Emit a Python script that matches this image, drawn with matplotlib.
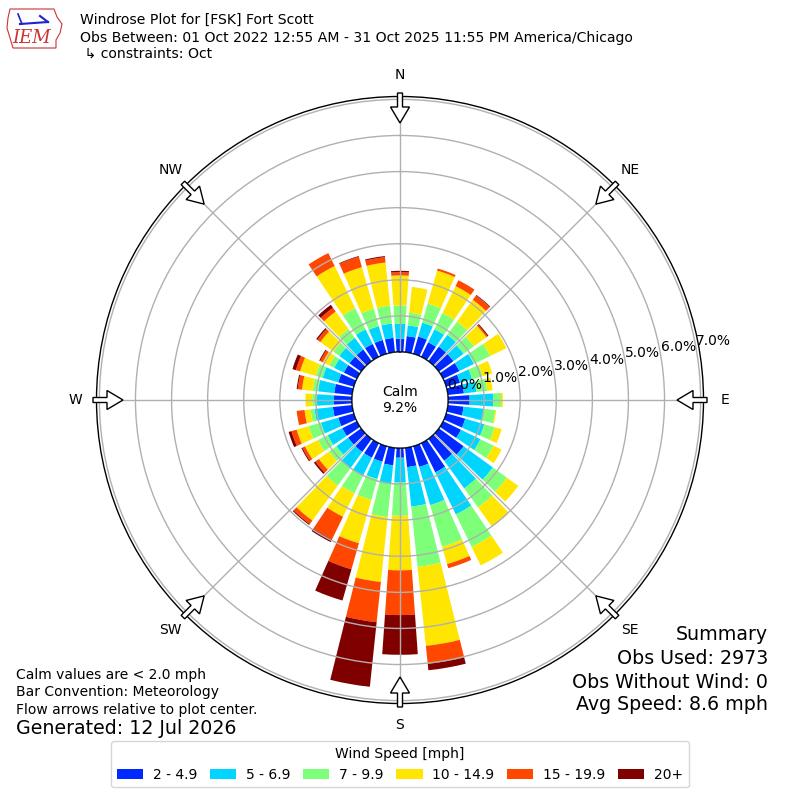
import numpy as np
import matplotlib
matplotlib.use("Agg")
import matplotlib.pyplot as plt
from matplotlib.patches import Circle, FancyArrow, Polygon, Patch
from matplotlib.lines import Line2D

# ---------------- data ----------------
directions = np.arange(0, 360, 10)
speed_bins = ["2 - 4.9", "5 - 6.9", "7 - 9.9", "10 - 14.9", "15 - 19.9", "20+"]
pct_2_5 = [0.37, 0.45, 0.50, 0.45, 0.50, 0.50, 0.50, 0.40, 0.45, 0.60, 0.44, 0.55,
           0.55, 0.85, 0.75, 0.90, 0.60, 0.54, 0.27, 0.49, 0.45, 0.45, 0.45, 0.45,
           0.45, 0.45, 0.54, 0.50, 0.50, 0.45, 0.40, 0.40, 0.40, 0.40, 0.40, 0.40]
pct_5_7 = [0.41, 0.30, 0.40, 0.40, 0.40, 0.35, 0.45, 0.35, 0.35, 0.65, 0.56, 0.55,
           0.60, 1.00, 0.95, 1.30, 1.10, 1.10, 0.69, 0.51, 0.50, 0.55, 0.55, 0.40,
           0.45, 0.50, 0.51, 0.47, 0.45, 0.45, 0.30, 0.35, 0.40, 0.45, 0.40, 0.40]
pct_7_10 = [0.51, 0.35, 0.55, 0.50, 0.45, 0.35, 0.50, 0.30, 0.30, 0.22, 0.32, 0.30,
            0.40, 0.48, 0.65, 1.00, 1.20, 1.68, 0.92, 0.93, 0.60, 0.55, 0.60, 0.25,
            0.30, 0.35, 0.11, 0.13, 0.15, 0.20, 0.15, 0.20, 0.30, 0.65, 0.50, 0.50]
pct_10_15 = [0.83, 0.72, 0.95, 0.83, 0.75, 0.43, 0.50, 0.28, 0.15, 0.05, 0.03, 0.20,
             0.25, 0.39, 0.65, 0.57, 0.50, 2.20, 1.51, 1.81, 1.25, 0.72, 1.20, 0.35,
             0.40, 0.35, 0.17, 0.19, 0.30, 0.45, 0.20, 0.45, 0.60, 1.30, 1.20, 1.20]
pct_15_20 = [0.09, 0.00, 0.06, 0.18, 0.15, 0.04, 0.00, 0.00, 0.00, 0.00, 0.00, 0.00,
             0.00, 0.00, 0.00, 0.00, 0.12, 0.50, 1.24, 1.12, 0.75, 0.70, 0.12, 0.12,
             0.08, 0.15, 0.22, 0.00, 0.12, 0.12, 0.08, 0.10, 0.13, 0.40, 0.30, 0.15]
pct_20p = [0.04, 0.00, 0.00, 0.00, 0.02, 0.03, 0.00, 0.00, 0.00, 0.00, 0.00, 0.00,
           0.00, 0.00, 0.00, 0.00, 0.00, 0.18, 1.10, 1.80, 0.90, 0.08, 0.03, 0.05,
           0.03, 0.08, 0.00, 0.00, 0.03, 0.10, 0.03, 0.04, 0.10, 0.00, 0.02, 0.03]
calm_pct = 9.2
ring_ticks = [0, 1, 2, 3, 4, 5, 6, 7]
compass_labels = ["N", "NE", "E", "SE", "S", "SW", "W", "NW"]
compass_angles = [0, 45, 90, 135, 180, 225, 270, 315]

series = [pct_2_5, pct_5_7, pct_7_10, pct_10_15, pct_15_20, pct_20p]
colors = plt.cm.jet(np.linspace(0, 1, 7)[1:])

# ---------------- figure ----------------
fig = plt.figure(figsize=(8, 8), dpi=100)
W = 800.0
R_px = 303.5
ax = fig.add_axes([(400 - R_px) / W, (400 - R_px) / W, 2 * R_px / W, 2 * R_px / W],
                  projection="polar")
ax.set_theta_zero_location("N")
ax.set_theta_direction(-1)
rmax = 7.08
rorigin = -1.33
ax.set_ylim(0, rmax)
ax.set_rorigin(rorigin)

theta = np.deg2rad(directions)
width = np.deg2rad(8.0)
bottom = np.zeros(len(directions))
for vals, col, lab in zip(series, colors, speed_bins):
    v = np.array(vals)
    ax.bar(theta, v, width=width, bottom=bottom, color=col, edgecolor="none",
           linewidth=0, zorder=1, label=lab)
    bottom = bottom + v

ax.set_axisbelow(False)
ax.set_xticks(np.deg2rad(compass_angles))
ax.set_xticklabels([])
ax.set_yticks(ring_ticks[1:])
ax.set_yticklabels([])
ax.grid(True, color="#b0b0b0", linewidth=1.0, zorder=2.5)
ax.tick_params(axis="both", length=0)
ax.spines["polar"].set_linewidth(1.0)

# ring labels
for r in ring_ticks:
    ax.text(np.deg2rad(80), r, f"{r:.1f}%", ha="left", va="bottom", fontsize=10,
            zorder=6)

# calm circle
calm_r = 0.5 * (0 - rorigin) / (rmax - rorigin)
ax.add_patch(Circle((0.5, 0.5), calm_r, transform=ax.transAxes, facecolor="white",
                    edgecolor="black", linewidth=1.0, zorder=3))
ax.text(0.5, 0.5, f"Calm\n{calm_pct:.1f}%", transform=ax.transAxes, ha="center",
        va="center", fontsize=10, zorder=7, linespacing=1.15)

# compass arrows and labels
for lab, a in zip(compass_labels, compass_angles):
    ar = np.deg2rad(a)
    ux, uy = np.sin(ar), np.cos(ar)
    x0 = 0.5 + 307 / W * ux
    y0 = 0.5 + 307 / W * uy
    arr = FancyArrow(x0, y0, -30 / W * ux, -30 / W * uy, width=5 / W,
                     head_width=19 / W, head_length=16 / W,
                     length_includes_head=True, facecolor="white",
                     edgecolor="black", linewidth=1.0, transform=fig.transFigure,
                     zorder=10)
    fig.add_artist(arr)
    fig.text(0.5 + 325 / W * ux, 0.5 + 325 / W * uy, lab, ha="center",
             va="center", fontsize=10)

# logo (approximation)
def px(x, y):
    return (x / W, 1 - y / W)

iowa = [px(10, 9), px(54, 9), px(57, 17), px(62, 24), px(60, 33), px(56, 40),
        px(56, 48), px(13, 48), px(10, 38), px(7, 28), px(8, 18)]
fig.add_artist(Polygon(iowa, closed=True, fill=False, edgecolor="#cc3333",
                       linewidth=0.8, transform=fig.transFigure))
fig.add_artist(Line2D([px(20, 24)[0], px(48, 22)[0]], [px(20, 24)[1], px(48, 22)[1]],
                      color="#2222cc", linewidth=1.5, transform=fig.transFigure))
fig.add_artist(Line2D([px(18, 14)[0], px(22, 24)[0]], [px(18, 14)[1], px(22, 24)[1]],
                      color="#2222cc", linewidth=1.2, transform=fig.transFigure))
fig.add_artist(Line2D([px(40, 16)[0], px(48, 22)[0]], [px(40, 16)[1], px(48, 22)[1]],
                      color="#2222cc", linewidth=1.5, transform=fig.transFigure))
fig.text(px(32, 38)[0], px(32, 38)[1], "IEM", ha="center", va="center",
         fontsize=13, color="#cc3333", family="DejaVu Serif", style="italic")

# title
fig.text(80 / W, 1 - 20 / W, "Windrose Plot for [FSK] Fort Scott", ha="left",
         va="center", fontsize=10.1)
fig.text(80 / W, 1 - 38 / W,
         "Obs Between: 01 Oct 2022 12:55 AM - 31 Oct 2025 11:55 PM America/Chicago",
         ha="left", va="center", fontsize=10.1)
fig.text(80 / W, 1 - 54 / W, " \u21b3 constraints: Oct", ha="left", va="center",
         fontsize=10.1)

# bottom-left notes
fig.text(16 / W, 1 - 675 / W, "Calm values are < 2.0 mph", ha="left", va="center",
         fontsize=10)
fig.text(16 / W, 1 - 692 / W, "Bar Convention: Meteorology", ha="left", va="center",
         fontsize=10)
fig.text(16 / W, 1 - 710 / W, "Flow arrows relative to plot center.", ha="left",
         va="center", fontsize=10)
fig.text(16 / W, 1 - 729 / W, "Generated: 12 Jul 2026", ha="left", va="center",
         fontsize=13.7)

# summary
summary = ["Summary", "Obs Used: 2973", "Obs Without Wind: 0", "Avg Speed: 8.6 mph"]
for s, yy in zip(summary, [635, 659, 682, 705]):
    fig.text(768 / W, 1 - yy / W, s, ha="right", va="center", fontsize=13.7)

# legend
handles = [Patch(facecolor=c, edgecolor="none") for c in colors]
fig.legend(handles, speed_bins, ncol=6, title="Wind Speed [mph]",
           loc="lower center", bbox_to_anchor=(0.5, 0.007), fontsize=10,
           title_fontsize=10, columnspacing=0.9, handletextpad=0.7,
           handlelength=1.9, fancybox=True)

fig.savefig("out.png", dpi=100)
